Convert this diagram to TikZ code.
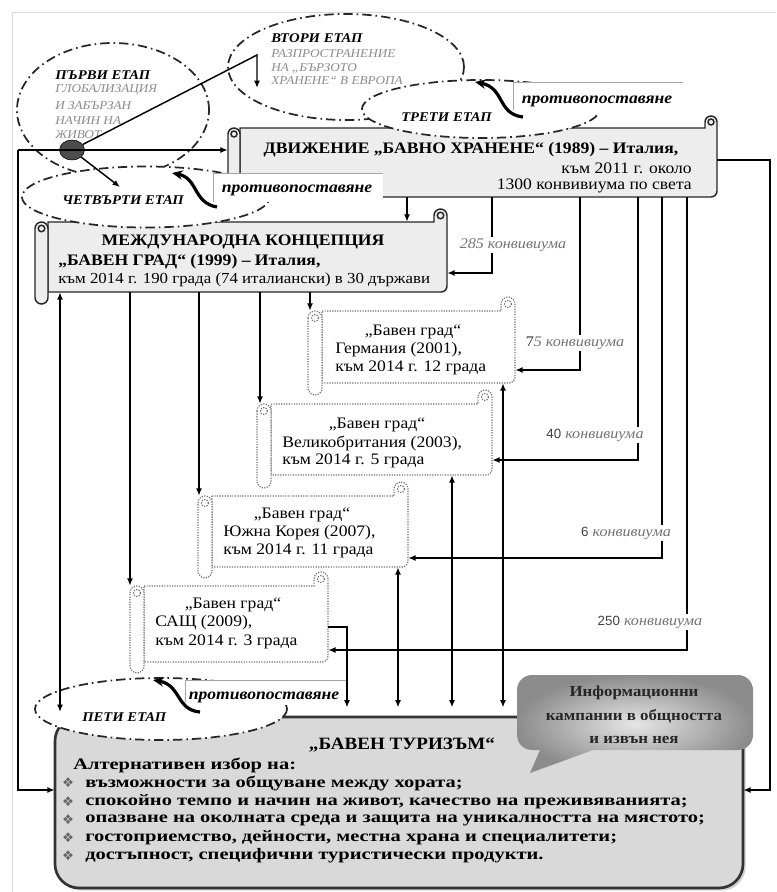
\documentclass[tikz,border=0pt]{standalone}
\usepackage{fontspec}
\setmainfont{Liberation Serif}[FakeStretch=1.1]
\newfontfamily\wideserif{Liberation Serif}[FakeStretch=1.28]
\newfontfamily\sansf{Liberation Sans}
\newfontfamily\symf{DejaVu Sans}
\usetikzlibrary{arrows.meta,shadows,shapes.geometric}

\newcommand\scrollbox[7]{% #1 style, #2 L, #3 T, #4 R, #5 B, #6 d, #7 tube bottom
 \path[#1] (#2+#6,#3) -- (#4-#6,#3) -- (#4-#6,#3-#6/2)
   arc[start angle=180, end angle=360, radius=#6/2]
   -- (#4,#5-6) arc[start angle=0, end angle=90, radius=6] -- (#2+#6,#5) -- cycle;
 \path[#1] (#4-#6/2,#3-#6/2) circle[radius=#6/4];
 \path[#1] (#2,#3+#6/2) arc[start angle=180,end angle=360,radius=#6/2]
   -- (#2+#6,#7-#6/2) arc[start angle=0,end angle=180,radius=#6/2] -- cycle;
 \path[#1] (#2+#6/2,#3+#6/2) circle[radius=#6/4];
}
\newcommand\mkbox[5]{% name, L, T, R, B
  \pgfmathsetmacro\mcx{(#2+#4)/2}\pgfmathsetmacro\mcy{(#3+#5)/2}%
  \pgfmathsetmacro\mww{(#4-#2)*0.75}\pgfmathsetmacro\mhh{(#5-#3)*0.75}%
  \node[inner sep=0, minimum width=\mww pt, minimum height=\mhh pt] (#1) at (\mcx,\mcy) {};}

\tikzset{
 con/.style={line width=1.1pt, draw=black},
 arr/.style={con, -{Latex[length=5.5pt,width=4.5pt]}},
 darr/.style={con, {Latex[length=5.5pt,width=4.5pt]}-{Latex[length=5.5pt,width=4.5pt]}},
 etapell/.style={ellipse, draw=black!85, fill=white, line width=1.3pt, inner sep=0,
   dash pattern=on 7pt off 3pt on 1.2pt off 3pt},
 etaplbl/.style={font=\fontsize{10}{12}\selectfont\bfseries\itshape, inner sep=0, anchor=west},
 desc/.style={font=\fontsize{9}{10.5}\selectfont\itshape, text=black!45, inner sep=0, anchor=west},
 ptxt/.style={font=\fontsize{12}{14}\selectfont\bfseries\itshape, inner sep=0},
 pline/.style={draw=black!35, line width=0.6pt},
 curl/.style={line width=2.4pt, -{Stealth[length=8pt,width=7pt]}},
 konv/.style={font=\fontsize{11}{13}\selectfont\itshape, text=black!55, fill=white, inner sep=1.5pt},
 solidscroll/.style={draw=black!85, fill=black!7, line width=1.1pt},
 dotscroll/.style={draw=black!55, fill=white, line width=0.9pt, densely dotted},
 txt/.style={font=\fontsize{12}{13.5}\selectfont, inner sep=0},
 btxt/.style={font=\fontsize{12}{13.5}\selectfont\bfseries, inner sep=0},
 bigb/.style={font=\wideserif\fontsize{12}{14}\selectfont\bfseries, inner sep=0},
 bul/.style={font=\symf\fontsize{10}{11}\selectfont, text=black!60, inner sep=0},
}

\begin{document}
\begin{tikzpicture}[x=0.75pt,y=-0.75pt]
\useasboundingbox (0,0) rectangle (776,892);
\fill[white] (0,0) rectangle (776,892);
\draw[black!15, line width=0.6pt] (12,892) -- (12,12) -- (776,12);

% ---------- main scrolls ----------
\scrollbox{solidscroll}{228}{128}{717}{197}{12}{206}
\mkbox{A}{228}{128}{717}{197}
\node[btxt] (tA1) at (471,150) {ДВИЖЕНИЕ „БАВНО ХРАНЕНЕ“ (1989) – Италия,};
\node[txt, anchor=east] (tA2) at (692,168) {към 2011 г. около};
\node[txt, anchor=east] (tA3) at (692,186) {1300 конвивиума по света};

\scrollbox{solidscroll}{35}{222}{447}{292}{13}{304}
\mkbox{B}{35}{222}{447}{292}
\node[btxt] (tB1) at (243,242) {МЕЖДУНАРОДНА КОНЦЕПЦИЯ};
\node[btxt, anchor=west] (tB2) at (58,262) {„БАВЕН ГРАД“ (1999) – Италия,};
\node[txt, font=\fontsize{11.5}{13.5}\selectfont, anchor=west] (tB3) at (58,280) {към 2014 г. 190 града (74 италиански) в 30 държави};

\scrollbox{dotscroll}{308}{311}{515}{383}{14}{395}
\mkbox{S1}{308}{311}{515}{383}
\node[txt] (tS1a) at (413,332) {„Бавен град“};
\node[txt, anchor=west] (tS1b) at (335,350) {Германия (2001),};
\node[txt, anchor=west] (tS1c) at (335,368) {към 2014 г. 12 града};

\scrollbox{dotscroll}{257}{404}{492}{475}{14}{488}
\mkbox{S2}{257}{404}{492}{475}
\node[txt] (tS2a) at (377,425) {„Бавен град“};
\node[txt, anchor=west] (tS2b) at (282,443) {Великобритания (2003),};
\node[txt, anchor=west] (tS2c) at (282,461) {към 2014 г. 5 града};

\scrollbox{dotscroll}{198}{496}{408}{567}{14}{578}
\mkbox{S3}{198}{496}{408}{567}
\node[txt] (tS3a) at (302,515) {„Бавен град“};
\node[txt, anchor=west] (tS3b) at (223,533) {Южна Корея (2007),};
\node[txt, anchor=west] (tS3c) at (223,551) {към 2014 г. 11 града};

\scrollbox{dotscroll}{130}{586}{328}{662}{14}{673}
\mkbox{S4}{130}{586}{328}{662}
\node[txt] (tS4a) at (233,605) {„Бавен град“};
\node[txt, anchor=west] (tS4b) at (155,623) {САЩ (2009),};
\node[txt, anchor=west] (tS4c) at (155,642) {към 2014 г. 3 града};

% ---------- tourism box ----------
\path[draw=black!80, line width=2pt, fill=black!15, rounded corners=18pt,
  drop shadow={opacity=0.35, shadow xshift=2pt, shadow yshift=-2pt}] (55,717) rectangle (743,888);
\mkbox{T}{55}{717}{743}{888}
\node[font=\fontsize{13}{15}\selectfont\bfseries, inner sep=0] (tT0) at (402,745) {„БАВЕН ТУРИЗЪМ“};
\node[bigb, anchor=west] (tT1) at (73,765) {Алтернативен избор на:};
\node[bul] (b1) at (68,783) {❖};
\node[bul] (b2) at (68,802) {❖};
\node[bul] (b3) at (68,820) {❖};
\node[bul] (b4) at (68,838) {❖};
\node[bul] (b5) at (68,856) {❖};
\node[bigb, anchor=west] (tT2) at (85,783) {възможности за общуване между хората;};
\node[bigb, anchor=west] (tT3) at (85,802) {спокойно темпо и начин на живот, качество на преживяванията;};
\node[bigb, anchor=west] (tT4) at (85,820) {опазване на околната среда и защита на уникалността на мястото;};
\node[bigb, anchor=west] (tT5) at (85,838) {гостоприемство, дейности, местна храна и специалитети;};
\node[bigb, anchor=west] (tT6) at (85,856) {достъпност, специфични туристически продукти.};

% ---------- callout ----------
\shade[inner color=black!10, outer color=black!45]
  (532,675) -- (738,675) arc[start angle=270, end angle=360, radius=15]
  -- (753,735) arc[start angle=0, end angle=90, radius=15]
  -- (593,750) -- (530,773) -- (540,750) -- (532,750)
  arc[start angle=90, end angle=180, radius=15]
  -- (517,690) arc[start angle=180, end angle=270, radius=15] -- cycle;
\node[font=\fontsize{11.5}{17.5}\selectfont\bfseries, text=black!85, align=center, inner sep=0] (tC) at (634,715)
  {Информационни\\кампании в общността\\и извън нея};

% ---------- ellipses ----------
\node[etapell, minimum width=192*0.75pt, minimum height=134*0.75pt] (E1) at (113,110) {};
\node[etapell, minimum width=236*0.75pt, minimum height=106*0.75pt] (E2) at (346,67) {};
\node[etapell, minimum width=238*0.75pt, minimum height=58*0.75pt] (E3) at (481,109) {};
\node[etapell, minimum width=248*0.75pt, minimum height=61*0.75pt] (E4) at (146,197) {};
\node[etapell, minimum width=252*0.75pt, minimum height=62*0.75pt] (E5) at (161,709) {};

\node[etaplbl] (l1) at (55,75) {ПЪРВИ ЕТАП};
\node[desc] (d1a) at (55,90) {ГЛОБАЛИЗАЦИЯ};
\node[desc] (d1b) at (55,106) {И ЗАБЪРЗАН};
\node[desc] (d1c) at (55,121) {НАЧИН НА};
\node[desc] (d1d) at (55,135) {ЖИВОТ};
\node[etaplbl] (l2) at (271,38) {ВТОРИ ЕТАП};
\node[desc] (d2a) at (271,54) {РАЗПРОСТРАНЕНИЕ};
\node[desc] (d2b) at (271,68) {НА „БЪРЗОТО};
\node[desc] (d2c) at (271,81) {ХРАНЕНЕ“ В ЕВРОПА};
\node[etaplbl] (l3) at (401,117) {ТРЕТИ ЕТАП};
\node[etaplbl] (l4) at (62,200) {ЧЕТВЪРТИ ЕТАП};
\node[etaplbl] (l5) at (82,717) {ПЕТИ ЕТАП};

% ---------- "противопоставяне" labels ----------
\fill[white] (513,82) rectangle (690,113);
\draw[pline] (683,82) -- (513,82) -- (513,110);
\node[ptxt] (p1) at (597,101) {противопоставяне};
\fill[white] (213,173) rectangle (383,202);
\draw[pline] (383,173) -- (213,173) -- (213,202);
\node[ptxt] (p2) at (297,190) {противопоставяне};
\fill[white] (185,680) rectangle (347,705);
\draw[pline] (347,680) -- (185,680) -- (185,702);
\node[ptxt] (p3) at (264,697) {противопоставяне};

\draw[curl] (523,117) .. controls (497,114) and (505,88) .. (475,82);
\draw[curl] (217,207) .. controls (193,203) and (198,178) .. (172,173);
\draw[curl] (200,712) .. controls (176,710) and (181,685) .. (153,680);

% ---------- coordinates ----------
\coordinate (c1) at (257,55);
\coordinate (c1b) at (257,88);
\coordinate (cL) at (18,150);
\coordinate (cLB) at (18,790);
\coordinate (c4) at (120,187);
\coordinate (cR1) at (770,160);
\coordinate (cR2) at (770,790);
\coordinate (cB) at (407,0);
\coordinate (c285) at (492,273);
\coordinate (c75) at (580,370);
\coordinate (c40) at (638,460);
\coordinate (c6) at (662,558);
\coordinate (c250) at (687,650);
\coordinate (c60) at (60,712);
\coordinate (c130) at (130,0);
\coordinate (c199) at (199,0);
\coordinate (c260) at (260,0);
\coordinate (c310) at (310,0);
\coordinate (c347) at (347,627);
\coordinate (c398) at (398,0);
\coordinate (c452) at (452,0);
\coordinate (c503) at (503,0);

% ---------- connectors ----------
\node[ellipse, draw=black, fill=black!70, minimum width=25*0.75pt, minimum height=20*0.75pt, inner sep=0] (dot) at (72,150) {};
\draw[arr] (dot) -- (c1) -- (c1b);
\draw[arr] (cL) -- (A.west |- cL);
\draw[arr] (cL) -- (cLB) -- (T.west |- cLB);
\draw[arr] (dot) -- (c4);
\draw[arr] (A.east |- cR1) -- (cR1) -- (cR2) -- (T.east |- cR2);
\draw[arr] (A.south -| cB) -- (B.north -| cB);
\draw[arr] (A.south -| c285) -- (c285) -- (B.east |- c285);
\draw[arr] (A.south -| c75) -- (c75) -- (S1.east |- c75);
\draw[arr] (A.south -| c40) -- (c40) -- (S2.east |- c40);
\draw[arr] (A.south -| c6) -- (c6) -- (S3.east |- c6);
\draw[arr] (A.south -| c250) -- (c250) -- (S4.east |- c250);
\draw[darr] (B.south -| c60) -- (c60);
\draw[arr] (B.south -| c130) -- (S4.north -| c130);
\draw[arr] (B.south -| c199) -- (S3.north -| c199);
\draw[arr] (B.south -| c260) -- (S2.north -| c260);
\draw[arr] (B.south -| c310) -- (S1.north -| c310);
\draw[arr, shorten >=7pt] (S4.east |- c347) -- (c347) -- (T.north -| c347);
\draw[darr, shorten >=7pt] (S3.south -| c398) -- (T.north -| c398);
\draw[darr, shorten >=7pt] (S2.south -| c452) -- (T.north -| c452);
\draw[darr, shorten >=7pt] (S1.south -| c503) -- (T.north -| c503);

\node[konv] (k285) at (513,245) {285 конвивиума};
\node[konv] (k75) at (575,343) {{\upshape\color{black!80}7}5 конвивиума};
\node[konv] (k40) at (595,435) {{\sansf\upshape\fontsize{10}{12}\selectfont\color{black!75}40} конвивиума};
\node[konv] (k6) at (626,533) {{\sansf\upshape\fontsize{10}{12}\selectfont\color{black!75}6} конвивиума};
\node[konv] (k250) at (650,622) {{\sansf\upshape\fontsize{10}{12}\selectfont\color{black!75}250} конвивиума};
\end{tikzpicture}
\end{document}
